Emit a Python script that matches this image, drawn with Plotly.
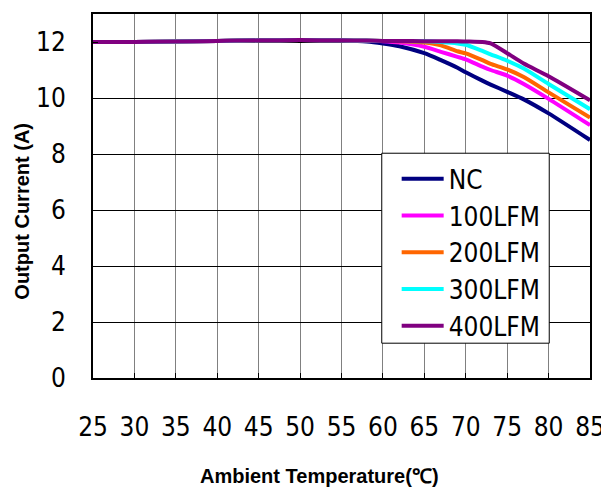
import plotly.graph_objects as go

temps = [25, 30, 35, 40, 45, 50, 55, 58, 60, 62, 65, 67, 69, 70, 72, 73, 75, 77, 80, 85]

nc     = [12.0, 12.0, 12.02, 12.04, 12.06, 12.07, 12.05, 12.02, 11.95, 11.85, 11.6, 11.35, 11.08, 10.92, 10.62, 10.48, 10.22, 9.95, 9.45, 8.5]
lfm100 = [12.0, 12.0, 12.02, 12.04, 12.06, 12.07, 12.06, 12.05, 12.03, 11.98, 11.83, 11.65, 11.47, 11.38, 11.12, 11.0, 10.8, 10.5, 9.97, 9.03]
lfm200 = [12.0, 12.0, 12.02, 12.04, 12.06, 12.07, 12.06, 12.05, 12.04, 12.03, 11.98, 11.88, 11.67, 11.59, 11.35, 11.22, 11.02, 10.75, 10.2, 9.3]
lfm300 = [12.0, 12.0, 12.02, 12.04, 12.06, 12.07, 12.06, 12.05, 12.04, 12.04, 12.03, 12.0, 11.95, 11.9, 11.68, 11.56, 11.33, 11.05, 10.5, 9.6]
lfm400 = [12.0, 12.0, 12.02, 12.04, 12.06, 12.07, 12.06, 12.05, 12.04, 12.04, 12.03, 12.03, 12.03, 12.02, 12.0, 11.95, 11.6, 11.23, 10.78, 9.92]

names = ["NC", "100LFM", "200LFM", "300LFM", "400LFM"]
colors = ["#000080", "#FF00FF", "#FF6600", "#00FFFF", "#800080"]
series = [nc, lfm100, lfm200, lfm300, lfm400]

x_ticks = [25, 30, 35, 40, 45, 50, 55, 60, 65, 70, 75, 80, 85]
y_ticks = [0, 2, 4, 6, 8, 10, 12]

narrow = "Liberation Sans Narrow, DejaVu Sans Condensed, Arial Narrow, sans-serif"
bold = "Liberation Sans, Arial, sans-serif"

fig = go.Figure()
for nm, col, ys in zip(names, colors, series):
    fig.add_trace(go.Scatter(x=temps, y=ys, name=nm, mode="lines",
                             line=dict(color=col, width=4, shape="spline", smoothing=0.6)))

fig.update_layout(
    width=601, height=481,
    margin=dict(l=85, r=17, t=4, b=111),
    paper_bgcolor="white", plot_bgcolor="white",
    showlegend=True,
    legend=dict(x=0.611, y=0.612, xanchor="left", yanchor="top",
                bgcolor="rgba(0,0,0,0)", borderwidth=0,
                font=dict(family=narrow, size=26, color="black"),
                itemwidth=42),
    shapes=[dict(type="rect", xref="paper", yref="paper",
                 x0=0.581, x1=0.918, y0=0.0956, y1=0.6175,
                 fillcolor="white", line=dict(color="black", width=1), layer="above")],
    xaxis=dict(range=[25, 85], tickvals=x_ticks, ticktext=[str(v) for v in x_ticks],
               showgrid=True, gridcolor="#808080", gridwidth=1,
               showline=True, linecolor="black", linewidth=2, mirror=True,
               ticks="inside", ticklen=5, tickcolor="black",
               ticklabelstandoff=25,
               tickfont=dict(family=narrow, size=26, color="black"),
               zeroline=False),
    yaxis=dict(range=[0, 13], tickvals=y_ticks, ticktext=[str(v) for v in y_ticks],
               showgrid=True, gridcolor="black", gridwidth=1,
               showline=True, linecolor="black", linewidth=2, mirror=True,
               ticks="inside", ticklen=5, tickcolor="black",
               ticklabelstandoff=20,
               tickfont=dict(family=narrow, size=26, color="black"),
               zeroline=False),
    annotations=[
        dict(text="<b>Ambient Temperature(℃)</b>", xref="paper", yref="paper",
             x=0.455, y=0, yshift=-98, xanchor="center", yanchor="middle",
             showarrow=False, font=dict(family=bold, size=20, color="black")),
        dict(text="<b>Output Current (A)</b>", xref="paper", yref="paper",
             x=0, xshift=-71, y=0.457, xanchor="center", yanchor="middle",
             textangle=-90, showarrow=False, font=dict(family=bold, size=20, color="black")),
    ],
)

fig.write_html("out.html")
